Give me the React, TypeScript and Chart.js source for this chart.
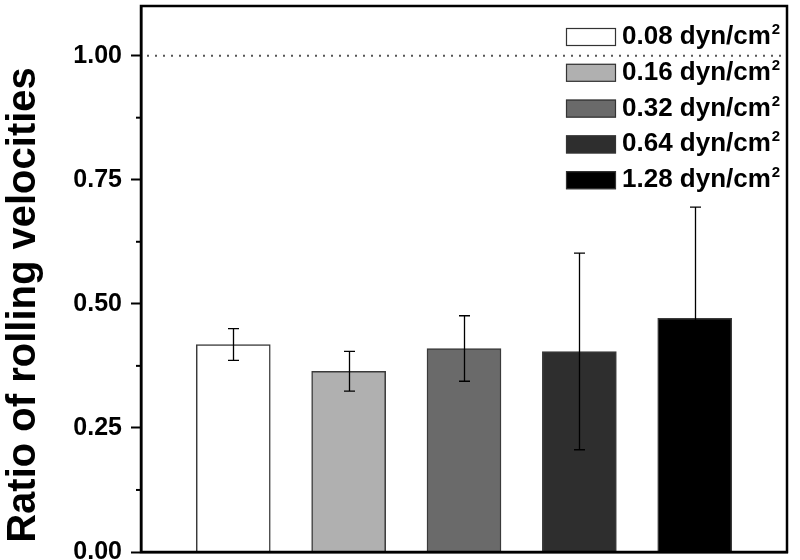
import { useEffect, useRef } from "react";
import { Chart, registerables } from "chart.js";

Chart.register(...registerables);

// ---------- data ----------
const categories = ["0.08 dyn/cm", "0.16 dyn/cm", "0.32 dyn/cm", "0.64 dyn/cm", "1.28 dyn/cm"];
const superscripts = ["2", "2", "2", "2", "2"];
const positions = [1, 2, 3, 4, 5];
const ratios = [0.418, 0.364, 0.41, 0.404, 0.471];
const errors = [0.032, 0.04, 0.066, 0.198, 0.224];
const fills = ["#ffffff", "#b0b0b0", "#6a6a6a", "#2e2e2e", "#000000"];
const yTicks = [0, 0.25, 0.5, 0.75, 1.0];
const minorTicks = [0.125, 0.375, 0.625, 0.875];
const referenceLevel = 1.0;
const yTitle = "Ratio of rolling velocities";

const FONT = "'Liberation Sans', Arial, Helvetica, sans-serif";

const decorPlugin = {
  id: "decor",
  beforeDatasetsDraw(chart: any) {
    const { ctx, chartArea: a, scales } = chart;
    const py = scales.y.getPixelForValue(referenceLevel);
    ctx.save();
    ctx.strokeStyle = "#555";
    ctx.lineWidth = 2;
    ctx.setLineDash([2, 6]);
    ctx.beginPath();
    ctx.moveTo(a.left + 6, py);
    ctx.lineTo(a.right, py);
    ctx.stroke();
    ctx.restore();
  },
  afterDatasetsDraw(chart: any) {
    const { ctx, scales } = chart;
    const meta = chart.getDatasetMeta(0);
    ctx.save();
    ctx.strokeStyle = "#000";
    ctx.lineWidth = 1.3;
    meta.data.forEach((el: any, i: number) => {
      const x = Math.round(el.x) + 0.5;
      const yTop = scales.y.getPixelForValue(ratios[i] + errors[i]);
      const yBot = scales.y.getPixelForValue(ratios[i] - errors[i]);
      ctx.beginPath();
      ctx.moveTo(x, yTop);
      ctx.lineTo(x, yBot);
      ctx.moveTo(x - 5.5, yTop);
      ctx.lineTo(x + 5.5, yTop);
      ctx.moveTo(x - 5.5, yBot);
      ctx.lineTo(x + 5.5, yBot);
      ctx.stroke();
    });
    ctx.restore();
  },
  afterDraw(chart: any) {
    const { ctx, chartArea: a, scales } = chart;
    ctx.save();
    // frame
    ctx.strokeStyle = "#000";
    ctx.lineWidth = 2.5;
    ctx.strokeRect(a.left, a.top, a.right - a.left, a.bottom - a.top);
    // minor ticks
    ctx.lineWidth = 2;
    minorTicks.forEach((v) => {
      const py = scales.y.getPixelForValue(v);
      ctx.beginPath();
      ctx.moveTo(a.left - 5, py);
      ctx.lineTo(a.left, py);
      ctx.stroke();
    });
    // y title
    ctx.save();
    ctx.translate(35, 305);
    ctx.rotate(-Math.PI / 2);
    ctx.fillStyle = "#000";
    ctx.font = `bold 40px ${FONT}`;
    ctx.textAlign = "center";
    ctx.textBaseline = "alphabetic";
    ctx.fillText(yTitle, 0, 0);
    ctx.restore();
    // legend
    const lx = a.right - 221;
    categories.forEach((label, i) => {
      const top = a.top + 22 + 35.8 * i;
      ctx.fillStyle = fills[i];
      ctx.fillRect(lx, top, 50, 18);
      ctx.strokeStyle = "#333";
      ctx.lineWidth = 1.2;
      ctx.strokeRect(lx + 0.5, top + 0.5, 49, 17);
      ctx.fillStyle = "#000";
      ctx.font = `bold 26px ${FONT}`;
      ctx.textAlign = "left";
      ctx.textBaseline = "alphabetic";
      const tx = lx + 56;
      ctx.fillText(label, tx, top + 16);
      const w = ctx.measureText(label).width;
      ctx.font = `bold 15px ${FONT}`;
      ctx.fillText(superscripts[i], tx + w + 1, top + 6);
    });
    ctx.restore();
  },
};

export default function App() {
  const canvasRef = useRef<HTMLCanvasElement | null>(null);

  useEffect(() => {
    const canvas = canvasRef.current;
    if (!canvas) return;
    const chart = new Chart(canvas, {
      type: "bar",
      data: {
        datasets: [
          {
            data: positions.map((x, i) => ({ x, y: ratios[i] })),
            backgroundColor: fills,
            borderColor: "#3a3a3a",
            borderWidth: 1.5,
            barThickness: 74,
          } as any,
        ],
      },
      options: {
        responsive: false,
        animation: false,
        devicePixelRatio: 1,
        layout: { padding: { left: 0, top: 6, right: 13, bottom: 0 } },
        plugins: {
          legend: { display: false },
          tooltip: { enabled: false },
        },
        scales: {
          x: {
            type: "linear",
            offset: false,
            min: 0.2,
            max: 5.8,
            ticks: { display: false },
            grid: { display: false, offset: false },
            border: { color: "#000", width: 2.5 },
            afterFit: (s: any) => {
              s.height = 8;
              s.paddingLeft = 0;
              s.paddingRight = 0;
            },
          },
          y: {
            type: "linear",
            min: 0,
            max: 1.1,
            afterBuildTicks: (s: any) => {
              s.ticks = yTicks.map((v) => ({ value: v }));
            },
            ticks: {
              padding: 9,
              color: "#000",
              font: { family: FONT, size: 25, weight: "bold" },
              callback: (v: any) => Number(v).toFixed(2),
            },
            grid: {
              drawOnChartArea: false,
              tickLength: 10,
              tickColor: "#000",
              tickWidth: 2,
            },
            border: { color: "#000", width: 2.5 },
            afterFit: (s: any) => {
              s.width = 141;
              s.paddingTop = 0;
              s.paddingBottom = 0;
            },
          },
        } as any,
      },
      plugins: [decorPlugin],
    });
    return () => chart.destroy();
  }, []);

  return (
    <div style={{ position: "fixed", left: 0, top: 0, width: 800, height: 560, background: "#fff" }}>
      <canvas ref={canvasRef} width={800} height={560} />
    </div>
  );
}
